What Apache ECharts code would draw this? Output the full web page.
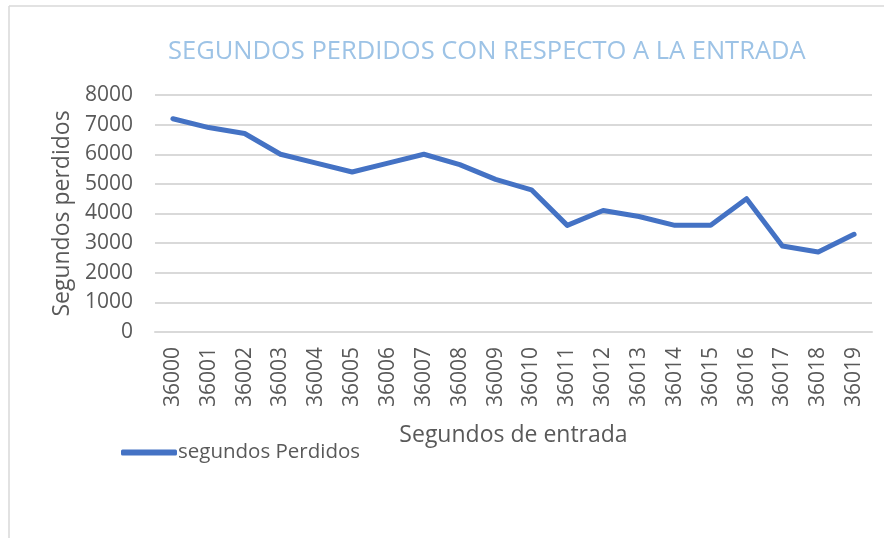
<!DOCTYPE html>
<html>
<head>
<meta charset="utf-8">
<script src="https://cdn.jsdelivr.net/npm/echarts@6/dist/echarts.min.js"></script>
<style>
  html, body { margin: 0; padding: 0; background: #ffffff; }
  #chart { width: 888px; height: 538px; }
</style>
</head>
<body>
<div id="chart"></div>
<script>
// Entry seconds (categories) and seconds lost per entry
const categories = ['36000', '36001', '36002', '36003', '36004', '36005', '36006', '36007', '36008', '36009',
                    '36010', '36011', '36012', '36013', '36014', '36015', '36016', '36017', '36018', '36019'];
const segundosPerdidos = [7200, 6900, 6700, 6000, 5700, 5400, 5700, 6000, 5650, 5150,
                          4800, 3600, 4100, 3900, 3600, 3600, 4500, 2900, 2700, 3300];
const yTicks = [0, 1000, 2000, 3000, 4000, 5000, 6000, 7000, 8000];

const font = '"Open Sans", "DejaVu Sans", sans-serif';
const textColor = '#595959';

const chart = echarts.init(document.getElementById('chart'), null, { renderer: 'canvas' });
chart.setOption({
  backgroundColor: '#ffffff',
  animation: false,
  title: {
    text: 'SEGUNDOS PERDIDOS CON RESPECTO A LA ENTRADA',
    left: 163,
    top: 34,
    textStyle: { fontFamily: font, fontSize: 25.5, fontWeight: 'normal', color: '#9DC3E6' }
  },
  graphic: [
    { type: 'line', shape: { x1: 9, y1: 6, x2: 884, y2: 6 }, style: { stroke: '#D9D9D9', lineWidth: 1.5 } },
    { type: 'line', shape: { x1: 9, y1: 6, x2: 9, y2: 538 }, style: { stroke: '#D9D9D9', lineWidth: 1.5 } }
  ],
  legend: {
    left: 116,
    top: 437,
    icon: 'roundRect',
    itemWidth: 56,
    itemHeight: 6,
    textStyle: { fontFamily: font, fontSize: 20.5, color: textColor, padding: [0, 0, 0, -4] },
    data: ['segundos Perdidos']
  },
  grid: { left: 155, right: 16, top: 95, bottom: 206, containLabel: false },
  xAxis: {
    type: 'category',
    data: categories,
    boundaryGap: true,
    name: 'Segundos de entrada',
    nameLocation: 'middle',
    nameGap: 92,
    nameTextStyle: { fontFamily: font, fontSize: 23, color: textColor },
    axisLine: { show: true, lineStyle: { color: '#D9D9D9', width: 2 } },
    axisTick: { show: false },
    axisLabel: { rotate: 90, margin: 15, fontFamily: font, fontSize: 21, color: textColor, interval: 0 }
  },
  yAxis: {
    type: 'value',
    min: yTicks[0],
    max: yTicks[yTicks.length - 1],
    interval: 1000,
    name: 'Segundos perdidos',
    nameLocation: 'middle',
    nameGap: 81,
    nameTextStyle: { fontFamily: font, fontSize: 23, color: textColor },
    axisLine: { show: false },
    axisTick: { show: false },
    axisLabel: { margin: 22, fontFamily: font, fontSize: 21, color: textColor, formatter: v => String(v) },
    splitLine: { lineStyle: { color: '#D9D9D9', width: 2 } }
  },
  series: [{
    name: 'segundos Perdidos',
    type: 'line',
    data: segundosPerdidos,
    symbol: 'none',
    lineStyle: { color: '#4472C4', width: 5, join: 'round', cap: 'round' },
    itemStyle: { color: '#4472C4' }
  }]
});
</script>
</body>
</html>
